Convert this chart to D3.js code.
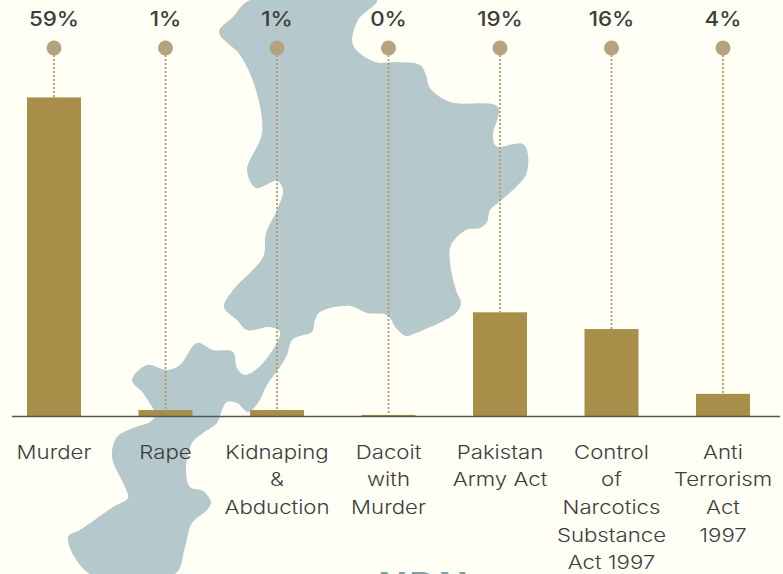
<!DOCTYPE html>
<html><head><meta charset="utf-8">
<script src="https://cdn.jsdelivr.net/npm/d3@7/dist/d3.min.js"></script>
<style>html,body{margin:0;padding:0;background:#fffff6;overflow:hidden}svg{display:block}</style>
</head><body><svg id="c" width="783" height="574"></svg>
<script>
const categories=[["Murder"],["Rape"],["Kidnaping","&","Abduction"],["Dacoit","with","Murder"],["Pakistan","Army Act"],["Control","of","Narcotics","Substance","Act 1997"],["Anti","Terrorism","Act","1997"]];
const values=[59,1.1,1.1,0.2,19.2,16.1,4.1];
const valueLabels=["59%","1%","1%","0%","19%","16%","4%"];
const bottomFragment="NDN";
const mapOutline=[[250,0],[377,0],[358,20],[353,45],[375,62],[396,62],[420,65],[426,75],[430,88],[450,102],[498,107],[493,135],[496,146],[523,144],[528,155],[526,175],[516,187],[498,203],[490,210],[487,222],[480,228],[466,230],[451,245],[450,262],[456,290],[461,303],[456,313],[416,333],[406,336],[396,328],[387,315],[367,313],[350,306],[320,312],[315,320],[312,332],[300,336],[292,340],[287,355],[280,367],[267,385],[258,403],[248,412],[237,403],[227,402],[222,410],[217,423],[203,433],[192,443],[186,470],[190,487],[203,491],[211,502],[207,510],[192,523],[185,547],[175,574],[90,574],[68,537],[80,530],[113,507],[128,498],[125,487],[112,457],[117,437],[133,428],[150,422],[155,415],[143,393],[132,380],[147,365],[167,370],[180,365],[197,343],[213,350],[233,352],[237,368],[245,375],[263,363],[280,332],[270,327],[247,330],[237,320],[224,307],[233,290],[263,257],[266,233],[277,210],[283,190],[277,181],[256,188],[247,170],[262,133],[255,87],[240,55],[219,32],[233,17]];
const svg=d3.select("#c");
const baseY=416,perUnit=5.4,topY=48;
svg.append("path").attr("d",d3.line().curve(d3.curveCatmullRomClosed.alpha(0.5))(mapOutline)).attr("fill","#b5c8cc");
const x=d3.scaleBand().domain(d3.range(categories.length)).range([-1.75,778.75]).paddingInner(0.516).paddingOuter(0.258);
const y=d3.scaleLinear().domain([0,59]).range([baseY,baseY-59*perUnit]);
const cx=i=>x(i)+x.bandwidth()/2;
const g=svg.append("g");
g.selectAll(".stem").data(values).join("line").attr("x1",(d,i)=>cx(i)).attr("x2",(d,i)=>cx(i)).attr("y1",topY+7).attr("y2",d=>y(d)).attr("stroke","#b59b6c").attr("stroke-width",1.8).attr("stroke-dasharray","2 2");
g.selectAll(".bar").data(values).join("rect").attr("x",(d,i)=>x(i)).attr("width",x.bandwidth()).attr("y",d=>y(d)).attr("height",d=>baseY-y(d)).attr("fill","#a78f4a");
g.selectAll(".dot").data(values).join("circle").attr("cx",(d,i)=>cx(i)).attr("cy",topY).attr("r",7.5).attr("fill","#b5a27f");
g.selectAll(".pct").data(valueLabels).join("text").attr("transform",(d,i)=>`translate(${cx(i)},26) scale(1.12,1)`).attr("text-anchor","middle").attr("font-family","Inter").attr("font-size",20).attr("font-weight",500).attr("fill","#3d3d3d").text(d=>d);
const axis=svg.append("g").attr("transform",`translate(0,${baseY})`).call(d3.axisBottom(x).tickSize(0).tickFormat(""));
axis.select(".domain").attr("d","M12,0.5H780").attr("stroke","#555").attr("stroke-width",1.6);
const labels=svg.append("g").attr("font-family","Inter").attr("font-size",18.5).attr("font-weight",300).attr("fill","#3d3d3d").attr("text-anchor","middle");
categories.forEach((lines,i)=>{lines.forEach((t,j)=>{labels.append("text").attr("transform",`translate(${cx(i)},${458.5+27.7*j}) scale(1.2,1)`).text(t);});});
svg.append("text").attr("x",424).attr("y",600).attr("text-anchor","middle").attr("font-family","Inter").attr("font-size",38).attr("font-weight",700).attr("letter-spacing",2).attr("fill","#7f9fa5").text(bottomFragment);
</script></body></html>
